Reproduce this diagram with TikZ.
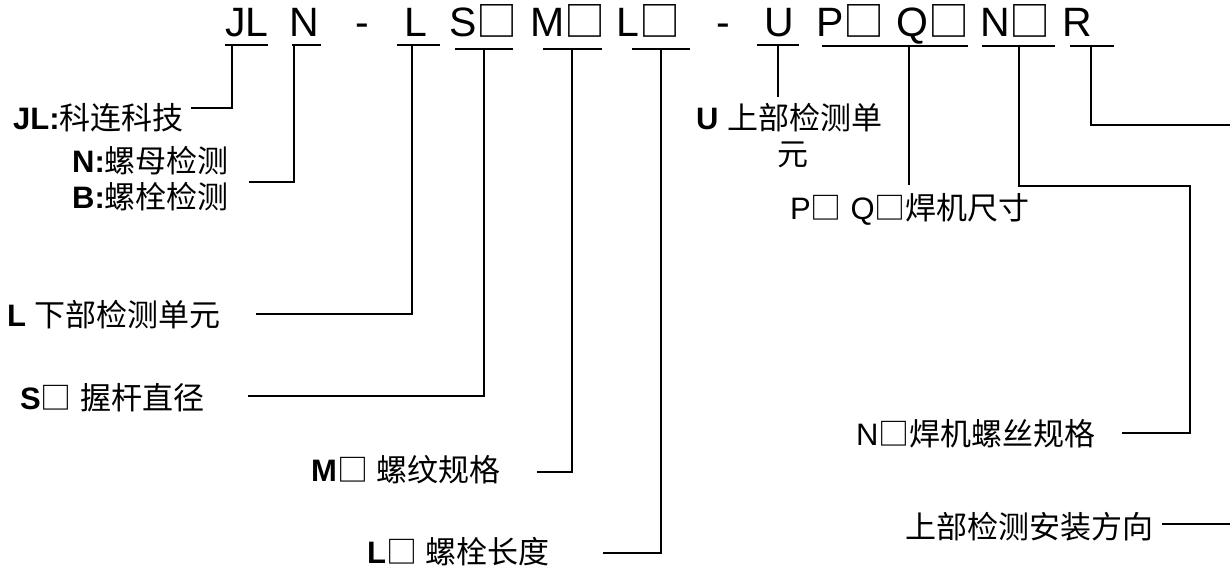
\documentclass[tikz,border=0pt]{standalone}
\usepackage{fontspec}
\setmainfont{Liberation Sans}
\newfontfamily\cjk{Noto Sans CJK SC}
\newcommand\zh[1]{{\cjk\fontsize{31}{36}\selectfont #1}}
\newcommand\bx{{\cjk □}}
\begin{document}
\begin{tikzpicture}[x=1pt,y=-1pt,
  top/.style={anchor=base west,inner sep=0pt,font=\fontsize{41}{48}\selectfont},
  lab/.style={anchor=base west,inner sep=0pt,font=\fontsize{31}{36}\selectfont},
  wire/.style={line width=2pt},
  uline/.style={line width=2pt}]
\useasboundingbox (0,0) rectangle (1230,569);
\clip (0,0) rectangle (1230,569);
% top code
\node[top] (tJL) at (225,37) {JL};
\node[top] (tN)  at (289,37) {N};
\node[top] (d1)  at (355,37) {-};
\node[top] (tL)  at (404,37) {L};
\node[top] (tS)  at (449,37) {S\bx};
\node[top] (tM)  at (530,37) {M\bx};
\node[top] (tLL) at (616,37) {L\bx};
\node[top] (d2)  at (716,37) {-};
\node[top] (tU)  at (764,37) {U};
\node[top] (tP)  at (816,37) {P\bx};
\node[top] (tQ)  at (896,37) {Q\bx};
\node[top] (tNN) at (980,37) {N\bx};
\node[top] (tR)  at (1062,37) {R};
% underlines
\draw[uline] (225,45) -- (268,45);
\draw[uline] (292,45) -- (321,45);
\draw[uline] (397,45) -- (440,45);
\draw[uline] (455,49) -- (513,49);
\draw[uline] (543,49) -- (602,49);
\draw[uline] (632,49) -- (690,49);
\draw[uline] (757,45) -- (799,45);
\draw[uline] (822,46) -- (968,46);
\draw[uline] (982,46) -- (1055,46);
\draw[uline] (1070,46) -- (1114,46);
% tick points
\coordinate (uJL) at (232,45);
\coordinate (uN)  at (294,45);
\coordinate (uL)  at (412,45);
\coordinate (uS)  at (484,49);
\coordinate (uM)  at (572,49);
\coordinate (uLL) at (661,49);
\coordinate (uU)  at (778,45);
\coordinate (uPQ) at (909,46);
\coordinate (uNN) at (1019,46);
\coordinate (uR)  at (1091,46);
% free ends
\coordinate (eJL) at (191,108);
\coordinate (eN)  at (249,182);
\coordinate (eL)  at (256,314);
\coordinate (eS)  at (248,396);
\coordinate (eM)  at (537,472);
\coordinate (eLL) at (603,553);
\coordinate (eU)  at (778,97);
\coordinate (ePQ) at (909,185);
\coordinate (kNN) at (1190,186);
\coordinate (eNN) at (1122,433);
\coordinate (kR)  at (1230.5,125);
\coordinate (eR)  at (1162,524);
% labels
\node[lab] (lJL) at (13,130) {\textbf{JL:}\zh{科连科技}};
\node[lab] (lN1) at (72,173) {\textbf{N:}\zh{螺母检测}};
\node[lab] (lN2) at (72,209) {\textbf{B:}\zh{螺栓检测}};
\node[lab] (lL)  at (7,326) {\textbf{L} \zh{下部检测单元}};
\node[lab] (lS)  at (20,409) {\textbf{S}\bx\ \zh{握杆直径}};
\node[lab] (lM)  at (311,481) {\textbf{M}\bx\ \zh{螺纹规格}};
\node[lab] (lLL) at (367,563) {\textbf{L}\bx\ \zh{螺栓长度}};
\node[lab] (lU1) at (696,130) {\textbf{U} \zh{上部检测单}};
\node[lab] (lU2) at (777,166) {\zh{元}};
\node[lab] (lPQ) at (790,220) {P\bx\ Q\bx\zh{焊机尺寸}};
\node[lab] (lNN) at (856,445) {N\bx\zh{焊机螺丝规格}};
\node[lab] (lR)  at (905,538) {\zh{上部检测安装方向}};
% connectors
\draw[wire] (uJL) |- (eJL);
\draw[wire] (uN) |- (eN);
\draw[wire] (uL) |- (eL);
\draw[wire] (uS) |- (eS);
\draw[wire] (uM) |- (eM);
\draw[wire] (uLL) |- (eLL);
\draw[wire] (uU) -- (eU);
\draw[wire] (uPQ) -- (ePQ);
\draw[wire] (uNN) |- (kNN) |- (eNN);
\draw[wire] (uR) |- (kR) |- (eR);
\end{tikzpicture}
\end{document}
